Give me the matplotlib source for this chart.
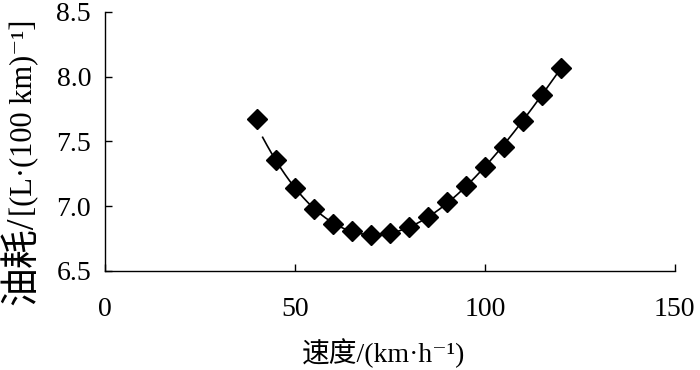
import numpy as np
import matplotlib
matplotlib.use("Agg")
import matplotlib.pyplot as plt

plt.rcParams['font.family'] = ['Liberation Serif', 'Noto Sans CJK SC', 'DejaVu Serif']

# measured points
speed = [40, 45, 50, 55, 60, 65, 70, 75, 80, 85, 90, 95, 100, 105, 110, 115, 120]
fuel = [7.67, 7.36, 7.14, 6.98, 6.86, 6.81, 6.78, 6.79, 6.84, 6.92, 7.03, 7.16,
        7.30, 7.46, 7.66, 7.86, 8.07]

xticks = [0, 50, 100, 150]
yticks = [6.5, 7.0, 7.5, 8.0, 8.5]

W, H = 700, 370
fig = plt.figure(figsize=(W / 100, H / 100), dpi=100)
ax = fig.add_axes([0.15, 0.2676, 0.814, 0.70])

# trend line: the 40 km/h point sits off the fitted curve in the original
coef = np.polyfit(speed[1:], fuel[1:], 3)
xs = np.linspace(41.5, max(speed), 200)
ax.plot(xs, np.polyval(coef, xs), color='black', lw=1.2, zorder=2)
ax.plot(speed, fuel, 'D', color='black', ms=10.5, zorder=3)

ax.set_xlim(0, 150)
ax.set_ylim(6.5, 8.5)
ax.set_xticks(xticks)
ax.set_yticks(yticks)
ax.set_xticklabels([str(t) for t in xticks])
ax.set_yticklabels(['%.1f' % t for t in yticks])

for s in ['top', 'right']:
    ax.spines[s].set_visible(False)
for s in ['left', 'bottom']:
    ax.spines[s].set_linewidth(1.0)
ax.tick_params(direction='in', length=5, width=1.0, labelsize=20)
ax.tick_params(axis='y', pad=10)
ax.tick_params(axis='x', pad=19)

ax.set_xlabel('速度/(km·h⁻¹)', fontsize=20, fontweight='light')
ax.xaxis.set_label_coords(0.489, -0.26)

# y label in two pieces: the Chinese part is set larger in the original
xb = 32 / W
t1 = fig.text(xb, (H - 305) / H, '油耗/', rotation=90, rotation_mode='anchor',
              ha='left', va='baseline', fontsize=28, fontweight='light')
fig.canvas.draw()
bb = t1.get_window_extent(fig.canvas.get_renderer())
fig.text(xb, bb.y1 / H, '[(L·(100 km)⁻¹]', rotation=90, rotation_mode='anchor',
         ha='left', va='baseline', fontsize=22)

fig.savefig('out.png', dpi=100)
